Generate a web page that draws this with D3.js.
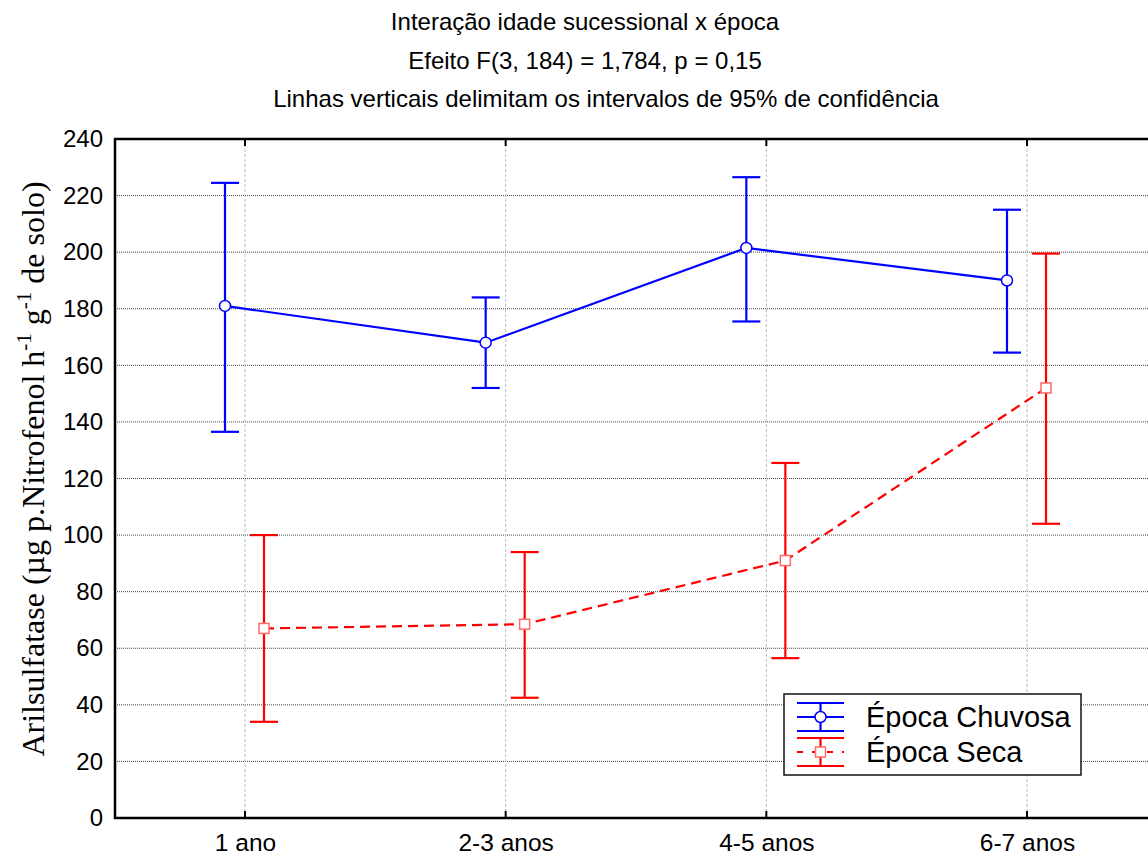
<!DOCTYPE html>
<html>
<head>
<meta charset="utf-8">
<script src="https://cdn.jsdelivr.net/npm/d3@7"></script>
<style>
  body { margin: 0; background: #fff; }
  svg { display: block; }
</style>
</head>
<body>
<div id="chart"></div>
<script>
// data
var categories = ["1 ano", "2-3 anos", "4-5 anos", "6-7 anos"];
var chuvosaMean = [181, 168, 201.5, 190];
var chuvosaLow  = [136.5, 152, 175.5, 164.5];
var chuvosaHigh = [224.5, 184, 226.5, 215];
var secaMean = [67, 68.5, 91, 152];
var secaLow  = [34, 42.5, 56.5, 104];
var secaHigh = [100, 94, 125.5, 199.5];
var yTicks = [0, 20, 40, 60, 80, 100, 120, 140, 160, 180, 200, 220, 240];
var titleLines = [
  "Interação idade sucessional x época",
  "Efeito F(3, 184) = 1,784, p = 0,15",
  "Linhas verticais delimitam os intervalos de 95% de confidência"
];

var w = 1148, h = 857;
// plot area
var pLeft = 115, pRight = 1150, pTop = 139, pBottom = 818;

var svg = d3.select("#chart").append("svg")
  .attr("width", w).attr("height", h);

var x = d3.scalePoint().domain(categories).range([245, 1027]);
var y = d3.scaleLinear().domain([0, 240]).range([pBottom, pTop]);

// title
svg.selectAll("text.title")
  .data(titleLines)
  .enter().append("text")
  .attr("class", "title")
  .attr("x", function(d, i) { return i == 2 ? 606 : 585; })
  .attr("y", function(d, i) { return 30 + i * 38.5; })
  .attr("text-anchor", "middle")
  .attr("font-family", "Liberation Sans, Arial, sans-serif")
  .attr("font-size", "24px")
  .text(function(d) { return d; });

// horizontal grid
svg.selectAll("line.hgrid")
  .data(yTicks.slice(1, -1))
  .enter().append("line")
  .attr("class", "hgrid")
  .attr("x1", pLeft).attr("x2", pRight)
  .attr("y1", function(d) { return y(d); })
  .attr("y2", function(d) { return y(d); })
  .attr("stroke", "#444")
  .attr("stroke-width", 1)
  .attr("stroke-dasharray", "1,1");

// vertical grid
svg.selectAll("line.vgrid")
  .data(categories)
  .enter().append("line")
  .attr("class", "vgrid")
  .attr("x1", function(d) { return x(d); })
  .attr("x2", function(d) { return x(d); })
  .attr("y1", pTop).attr("y2", pBottom)
  .attr("stroke", "#bbb")
  .attr("stroke-width", 1)
  .attr("stroke-dasharray", "3,2");

// y axis labels
var yAxis = d3.axisLeft(y).tickValues(yTicks).tickSize(0).tickPadding(12);
var gy = svg.append("g").attr("transform", "translate(" + pLeft + ",0)").call(yAxis);
gy.select(".domain").remove();
gy.selectAll("text")
  .attr("font-family", "Liberation Sans, Arial, sans-serif")
  .attr("font-size", "24px")
  .attr("fill", "#000");

// x axis labels + inner ticks
var xAxis = d3.axisBottom(x).tickSize(0).tickPadding(16);
var gx = svg.append("g").attr("transform", "translate(0," + pBottom + ")").call(xAxis);
gx.select(".domain").remove();
gx.selectAll("text")
  .attr("font-family", "Liberation Sans, Arial, sans-serif")
  .attr("font-size", "24.5px")
  .attr("fill", "#000");

[pTop, pBottom].forEach(function(yy) {
  svg.selectAll(null)
    .data(categories)
    .enter().append("line")
    .attr("x1", function(d) { return x(d); })
    .attr("x2", function(d) { return x(d); })
    .attr("y1", yy)
    .attr("y2", yy == pTop ? yy + 7 : yy - 7)
    .attr("stroke", "#000")
    .attr("stroke-width", 2);
});

// frame
svg.append("rect")
  .attr("x", pLeft).attr("y", pTop)
  .attr("width", pRight - pLeft).attr("height", pBottom - pTop)
  .attr("fill", "none").attr("stroke", "#000").attr("stroke-width", 2.5);

// y title
var yt = svg.append("text")
  .attr("transform", "translate(44," + 469 + ") rotate(-90)")
  .attr("text-anchor", "middle")
  .attr("font-family", "Liberation Serif, Times New Roman, serif")
  .attr("font-size", "32px");
yt.append("tspan").text("Arilsulfatase (µg p.Nitrofenol h");
yt.append("tspan").attr("dy", -13).attr("font-size", "21px").text("-1");
yt.append("tspan").attr("dy", 13).text(" g");
yt.append("tspan").attr("dy", -13).attr("font-size", "21px").text("-1");
yt.append("tspan").attr("dy", 13).text(" de solo)");

function drawSeries(mean, low, high, color, offset, dash, symbol, symStroke) {
  var pts = categories.map(function(c, i) {
    return { x: x(c) + offset, m: mean[i], lo: low[i], hi: high[i] };
  });
  var line = d3.line().x(function(d) { return d.x; }).y(function(d) { return y(d.m); });
  svg.append("path")
    .datum(pts)
    .attr("d", line)
    .attr("fill", "none")
    .attr("stroke", color)
    .attr("stroke-width", 2.2)
    .attr("stroke-dasharray", dash);

  var g = svg.append("g");
  g.selectAll("line.err")
    .data(pts).enter().append("line")
    .attr("class", "err")
    .attr("x1", function(d) { return d.x; })
    .attr("x2", function(d) { return d.x; })
    .attr("y1", function(d) { return y(d.lo); })
    .attr("y2", function(d) { return y(d.hi); })
    .attr("stroke", color).attr("stroke-width", 2.2);
  ["lo", "hi"].forEach(function(k) {
    g.selectAll(null)
      .data(pts).enter().append("line")
      .attr("x1", function(d) { return d.x - 14; })
      .attr("x2", function(d) { return d.x + 14; })
      .attr("y1", function(d) { return y(d[k]); })
      .attr("y2", function(d) { return y(d[k]); })
      .attr("stroke", color).attr("stroke-width", 2.2);
  });

  if (symbol == "circle") {
    g.selectAll("circle")
      .data(pts).enter().append("circle")
      .attr("cx", function(d) { return d.x; })
      .attr("cy", function(d) { return y(d.m); })
      .attr("r", 5.5)
      .attr("fill", "#fff").attr("stroke", symStroke).attr("stroke-width", 1.5);
  } else {
    g.selectAll("rect")
      .data(pts).enter().append("rect")
      .attr("x", function(d) { return d.x - 5; })
      .attr("y", function(d) { return y(d.m) - 5; })
      .attr("width", 10).attr("height", 10)
      .attr("fill", "#fff").attr("stroke", symStroke).attr("stroke-width", 1.5);
  }
}

drawSeries(chuvosaMean, chuvosaLow, chuvosaHigh, "#0000ff", -20, null, "circle", "#0000ff");
drawSeries(secaMean, secaLow, secaHigh, "#ff0000", 19, "10,6", "square", "#ff6a6a");

// legend
var lg = svg.append("g");
lg.append("rect")
  .attr("x", 784).attr("y", 694).attr("width", 297).attr("height", 81)
  .attr("fill", "#fff").attr("stroke", "#111").attr("stroke-width", 1.5);

var legendItems = [
  { label: "Época Chuvosa", color: "#0000ff", dash: null, sym: "circle", cy: 717, sc: "#0000ff" },
  { label: "Época Seca", color: "#ff0000", dash: "6,9", sym: "square", cy: 752, sc: "#ff6a6a" }
];
legendItems.forEach(function(it) {
  [-14, 14].forEach(function(o) {
    lg.append("line").attr("x1", 797).attr("x2", 844)
      .attr("y1", it.cy + o).attr("y2", it.cy + o)
      .attr("stroke", it.color).attr("stroke-width", 2.2);
  });
  lg.append("line").attr("x1", 820.5).attr("x2", 820.5)
    .attr("y1", it.cy - 14).attr("y2", it.cy + 14)
    .attr("stroke", it.color).attr("stroke-width", 2.2);
  lg.append("line").attr("x1", 797).attr("x2", 844)
    .attr("y1", it.cy).attr("y2", it.cy)
    .attr("stroke", it.color).attr("stroke-width", 2.2)
    .attr("stroke-dasharray", it.dash);
  if (it.sym == "circle") {
    lg.append("circle").attr("cx", 820.5).attr("cy", it.cy).attr("r", 5.5)
      .attr("fill", "#fff").attr("stroke", it.sc).attr("stroke-width", 1.5);
  } else {
    lg.append("rect").attr("x", 815.5).attr("y", it.cy - 5).attr("width", 10).attr("height", 10)
      .attr("fill", "#fff").attr("stroke", it.sc).attr("stroke-width", 1.5);
  }
  lg.append("text")
    .attr("x", 866).attr("y", it.cy + 10)
    .attr("font-family", "Liberation Sans, Arial, sans-serif")
    .attr("font-size", "29px")
    .text(it.label);
});
</script>
</body>
</html>
